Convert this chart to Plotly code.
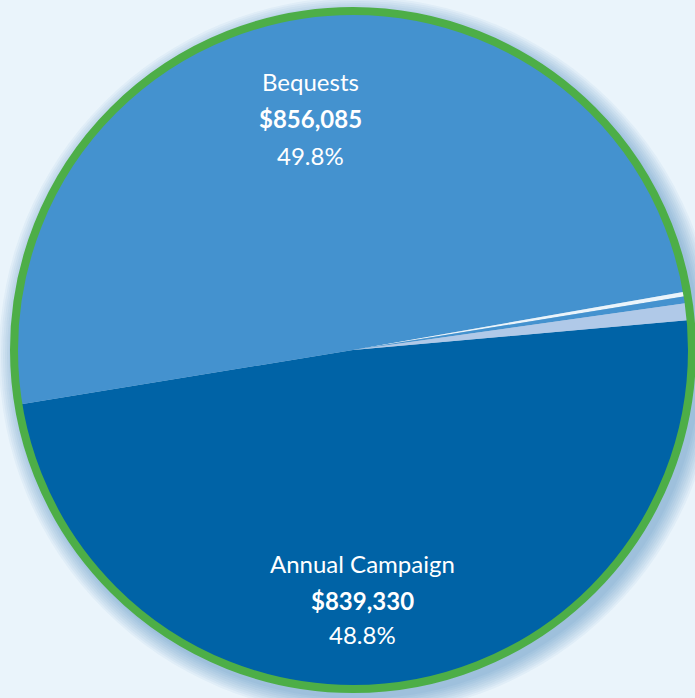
import plotly.graph_objects as go

labels = ["Annual Campaign", "Bequests", "Other A", "Other B", "Other C"]
values = [839330, 856085, 3600, 5730, 13850]
colors = ["#0063A6", "#4492CF", "#EAF4FB", "#4492CF", "#B0C9E8"]
shares = ["48.8%", "49.8%"]
amounts = ["$839,330", "$856,085"]

W, H = 695, 698
cx, cy, R = 353, 350, 341

def px(x):
    return x / W

def py(y):
    return 1 - y / H

fig = go.Figure()
fig.add_trace(go.Pie(
    labels=labels, values=values, sort=False, direction="clockwise",
    rotation=84.9, textinfo="none", hoverinfo="label+value+percent",
    marker=dict(colors=colors, line=dict(width=0)),
    domain=dict(x=[px(cx - R), px(cx + R)], y=[py(cy + R), py(cy - R)]),
    showlegend=False,
))

shapes = []
# soft glow/shadow around the pie, stronger to the lower right
for d in range(18, 0, -2):
    ox, oy = 5, 6
    shapes.append(dict(type="circle", xref="paper", yref="paper", layer="below",
                       x0=px(cx + ox - R - d), x1=px(cx + ox + R + d),
                       y0=py(cy + oy + R + d), y1=py(cy + oy - R - d),
                       fillcolor="rgba(40,110,180,0.05)", line=dict(width=0)))
# green ring
rr = 339
shapes.append(dict(type="circle", xref="paper", yref="paper", layer="above",
                   x0=px(cx - rr), x1=px(cx + rr), y0=py(cy + rr), y1=py(cy - rr),
                   line=dict(color="#4DAE47", width=8), fillcolor="rgba(0,0,0,0)"))

font = "Lato, Open Sans, sans-serif"
ann = []
def add(text, x, y, bold=False):
    ann.append(dict(text=(f"<b>{text}</b>" if bold else text), x=px(x), y=py(y),
                    xref="paper", yref="paper", showarrow=False,
                    xanchor="center", yanchor="middle",
                    font=dict(family=font, size=24, color="white",
                              weight=(700 if bold else 400))))

add(labels[1], 310, 82)
add(amounts[1], 310, 118, bold=True)
add(shares[1], 310, 155)
add(labels[0], 362, 563)
add(amounts[0], 362, 600, bold=True)
add(shares[0], 362, 634)

fig.update_layout(width=W, height=H, margin=dict(l=0, r=0, t=0, b=0),
                  paper_bgcolor="#EAF4FB", plot_bgcolor="#EAF4FB",
                  shapes=shapes, annotations=ann)
fig.write_html("out.html", config={"displayModeBar": False},
               post_script="document.body.style.margin='0';document.body.style.padding='0';document.body.style.background='#EAF4FB';")
